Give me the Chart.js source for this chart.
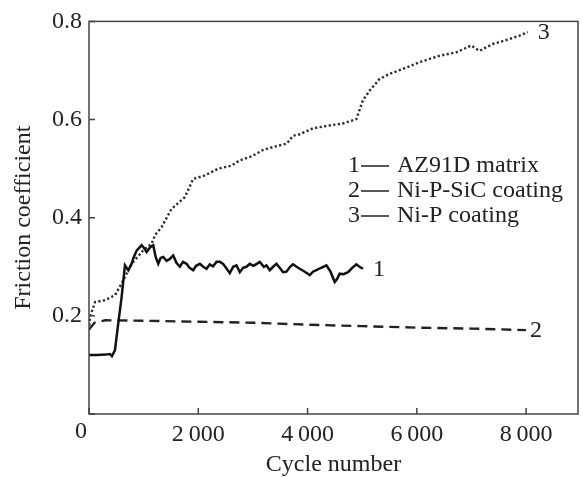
<!DOCTYPE html>
<html>
<head>
<meta charset="utf-8">
<script src="https://cdn.jsdelivr.net/npm/chart.js@4"></script>
<style>
  html, body { margin: 0; padding: 0; background: #fff; }
  #wrap { width: 583px; height: 477px; position: relative; }
</style>
</head>
<body>
<div id="wrap"><canvas id="friction-chart"></canvas></div>
<script>
const xTicks = [0, 2000, 4000, 6000, 8000];
const yTicks = [0, 0.2, 0.4, 0.6, 0.8];

// 1 - AZ91D matrix
const matrixCycles = [0, 150, 300, 384, 420, 475, 536, 597, 658, 719, 780, 810, 871, 963, 1010, 1054, 1120, 1176, 1220, 1267, 1310, 1359, 1420, 1480, 1541, 1600, 1663, 1720, 1785, 1840, 1907, 1960, 2029, 2090, 2151, 2210, 2270, 2334, 2395, 2455, 2520, 2577, 2640, 2699, 2760, 2820, 2880, 2943, 3010, 3070, 3126, 3200, 3248, 3309, 3370, 3431, 3490, 3552, 3614, 3680, 3735, 3800, 3857, 3950, 4040, 4100, 4162, 4250, 4345, 4420, 4497, 4540, 4588, 4660, 4741, 4820, 4893, 4950, 5015];
const matrixFriction = [0.120, 0.120, 0.121, 0.122, 0.118, 0.130, 0.185, 0.238, 0.303, 0.293, 0.306, 0.317, 0.333, 0.344, 0.338, 0.330, 0.340, 0.344, 0.320, 0.306, 0.318, 0.320, 0.312, 0.316, 0.323, 0.308, 0.300, 0.310, 0.306, 0.298, 0.293, 0.302, 0.306, 0.300, 0.296, 0.305, 0.301, 0.310, 0.310, 0.306, 0.296, 0.287, 0.300, 0.303, 0.289, 0.298, 0.300, 0.306, 0.302, 0.306, 0.310, 0.300, 0.303, 0.293, 0.300, 0.306, 0.298, 0.289, 0.290, 0.300, 0.305, 0.300, 0.296, 0.290, 0.283, 0.290, 0.293, 0.298, 0.303, 0.290, 0.269, 0.275, 0.286, 0.285, 0.289, 0.298, 0.305, 0.300, 0.296];

// 2 - Ni-P-SiC coating
const sicCycles = [0, 100, 300, 1000, 2000, 3000, 4000, 5000, 6000, 7000, 8000];
const sicFriction = [0.172, 0.186, 0.191, 0.190, 0.188, 0.186, 0.182, 0.179, 0.176, 0.174, 0.171];

// 3 - Ni-P coating
const nipCycles = [0, 20, 110, 292, 475, 597, 780, 990, 1146, 1206, 1329, 1511, 1755, 1907, 2120, 2364, 2608, 2760, 2974, 3186, 3400, 3620, 3735, 3857, 4095, 4405, 4646, 4893, 5012, 5137, 5320, 5502, 5807, 6051, 6416, 6722, 6996, 7147, 7391, 7696, 7879, 8031];
const nipFriction = [0.171, 0.198, 0.228, 0.232, 0.242, 0.266, 0.306, 0.333, 0.347, 0.364, 0.381, 0.418, 0.442, 0.479, 0.486, 0.500, 0.506, 0.517, 0.525, 0.538, 0.545, 0.551, 0.567, 0.570, 0.582, 0.588, 0.592, 0.601, 0.639, 0.659, 0.683, 0.693, 0.706, 0.717, 0.730, 0.737, 0.751, 0.740, 0.754, 0.764, 0.771, 0.778];

const seriesNames = ["AZ91D matrix", "Ni-P-SiC coating", "Ni-P coating"];
const seriesTags = ["1", "2", "3"];

const FONT = "'Liberation Serif', 'Times New Roman', serif";
const INK = "#222";
const FRAME = "#444";

function toPoints(xs, ys) {
  return xs.map((x, i) => ({ x: x, y: ys[i] }));
}

const framePlugin = {
  id: "frame",
  afterDatasetsDraw(chart) {
    const ctx = chart.ctx;
    const area = chart.chartArea;
    const xs = chart.scales.x;
    const ys = chart.scales.y;
    ctx.save();

    // box round the plot
    ctx.strokeStyle = FRAME;
    ctx.lineWidth = 1.5;
    ctx.strokeRect(area.left, area.top, area.right - area.left, area.bottom - area.top);

    // inward tick marks
    ctx.beginPath();
    xTicks.forEach((v) => {
      const px = xs.getPixelForValue(v);
      ctx.moveTo(px, area.bottom);
      ctx.lineTo(px, area.bottom - 6);
    });
    yTicks.forEach((v) => {
      const py = ys.getPixelForValue(v);
      ctx.moveTo(area.left, py);
      ctx.lineTo(area.left + 6, py);
    });
    ctx.stroke();

    ctx.fillStyle = INK;
    ctx.font = "24px " + FONT;

    // origin label
    ctx.textAlign = "center";
    ctx.textBaseline = "top";
    ctx.fillText("0", area.left - 8, area.bottom + 6);

    // curve tags at the end of each series
    ctx.textAlign = "left";
    ctx.textBaseline = "middle";
    const offsets = [10, 4, 10];
    chart.data.datasets.forEach((ds, i) => {
      const last = ds.data[ds.data.length - 1];
      ctx.fillText(seriesTags[i], xs.getPixelForValue(last.x) + offsets[i], ys.getPixelForValue(last.y) + 1);
    });

    // legend
    const lx = 348;
    let ly = 166;
    seriesNames.forEach((name, i) => {
      ctx.fillText(seriesTags[i], lx, ly);
      ctx.beginPath();
      ctx.lineWidth = 1.5;
      ctx.strokeStyle = INK;
      ctx.moveTo(lx + 13, ly);
      ctx.lineTo(lx + 41, ly);
      ctx.stroke();
      ctx.fillText(name, lx + 49, ly);
      ly += 25;
    });
    ctx.restore();
  },
};

new Chart(document.getElementById("friction-chart"), {
  type: "line",
  data: {
    datasets: [
      {
        label: seriesNames[0],
        data: toPoints(matrixCycles, matrixFriction),
        borderColor: "#111",
        borderWidth: 2.5,
        pointRadius: 0,
        tension: 0,
      },
      {
        label: seriesNames[1],
        data: toPoints(sicCycles, sicFriction),
        borderColor: "#222",
        borderWidth: 2.4,
        borderDash: [10, 6],
        pointRadius: 0,
        tension: 0,
      },
      {
        label: seriesNames[2],
        data: toPoints(nipCycles, nipFriction),
        borderColor: "#2a2a2a",
        borderWidth: 2.4,
        borderDash: [2.2, 2.4],
        pointRadius: 0,
        tension: 0,
      },
    ],
  },
  options: {
    responsive: true,
    maintainAspectRatio: false,
    animation: false,
    layout: {
      padding: { top: 20, right: 5, left: 0, bottom: 0 },
    },
    plugins: {
      legend: { display: false },
      tooltip: { enabled: false },
    },
    scales: {
      x: {
        type: "linear",
        min: 0,
        max: 8950,
        afterBuildTicks: (scale) => {
          scale.ticks = xTicks.map((v) => ({ value: v }));
        },
        afterFit: (scale) => {
          scale.height = 63;
        },
        grid: { display: false, drawTicks: false },
        border: { display: false },
        ticks: {
          padding: 6,
          color: INK,
          font: { family: FONT, size: 24 },
          maxRotation: 0,
          callback: (v) => (v === 0 ? "" : `${v / 1000}\u2009000`),
        },
        title: {
          display: true,
          text: "Cycle number",
          color: INK,
          font: { family: FONT, size: 24, lineHeight: 1 },
          padding: { top: 0, bottom: 0 },
        },
      },
      y: {
        type: "linear",
        min: 0,
        max: 0.8,
        afterBuildTicks: (scale) => {
          scale.ticks = yTicks.map((v) => ({ value: v }));
        },
        afterFit: (scale) => {
          scale.width = 89;
        },
        grid: { display: false, drawTicks: false },
        border: { display: false },
        ticks: {
          padding: 7,
          color: INK,
          font: { family: FONT, size: 24 },
          callback: (v) => (v === 0 ? "" : v.toFixed(1)),
        },
        title: {
          display: true,
          text: "Friction coefficient",
          color: INK,
          font: { family: FONT, size: 24, lineHeight: 1 },
          padding: { top: 12, bottom: 0 },
        },
      },
    },
  },
  plugins: [framePlugin],
});
</script>
</body>
</html>
